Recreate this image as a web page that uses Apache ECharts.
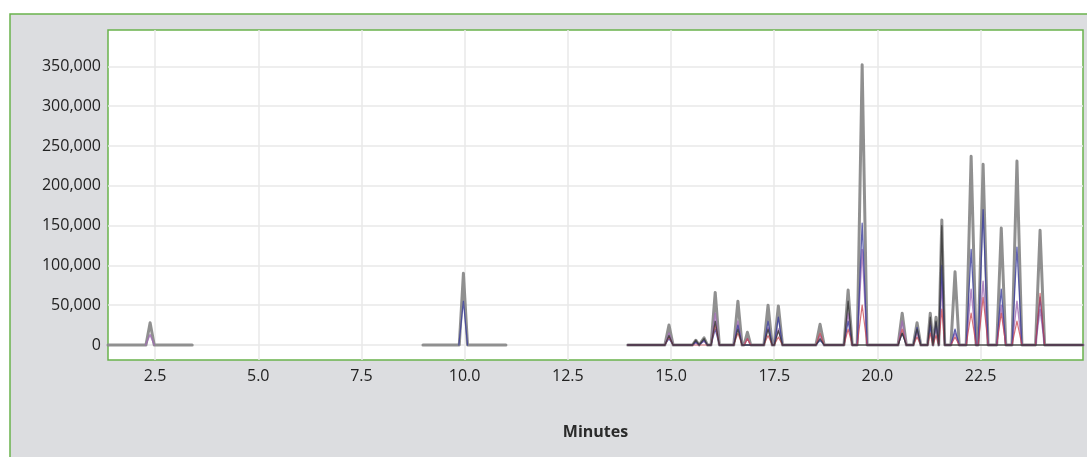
<!DOCTYPE html>
<html>
<head>
<meta charset="utf-8">
<script src="https://cdn.jsdelivr.net/npm/echarts@6/dist/echarts.min.js"></script>
<style>
  html, body { margin: 0; padding: 0; background: #ffffff; }
  #chart { width: 1087px; height: 457px; }
</style>
</head>
<body>
<div id="chart"></div>
<script>
// ---- data (minutes / detector response) ----
const xTicks = [2.5, 5.0, 7.5, 10.0, 12.5, 15.0, 17.5, 20.0, 22.5];
const yTicks = [0, 50000, 100000, 150000, 200000, 250000, 300000, 350000];

// recorded baseline segments (minutes)
const segStart = [1.36, 8.99, 13.95];
const segEnd   = [3.40, 11.00, 24.98];
// the coloured traces show only around the early peaks
const colSegStart = [2.27, 9.86, 13.95];
const colSegEnd   = [2.49, 10.08, 24.98];
// the dark trace is only recorded in the last window
const darkSegStart = [13.95];
const darkSegEnd   = [24.98];

// peaks: apex time, base width (minutes)
const peakTime  = [2.38, 9.97, 14.95, 15.60, 15.80, 16.07, 16.62, 16.85, 17.35, 17.60, 18.61, 19.29, 19.63, 20.60, 20.96, 21.28, 21.42, 21.56, 21.88, 22.27, 22.56, 23.00, 23.38, 23.94];
const peakWidth = [0.20, 0.20, 0.20, 0.16, 0.16, 0.20, 0.20, 0.16, 0.20, 0.20, 0.20, 0.20, 0.24, 0.20, 0.18, 0.13, 0.13, 0.14, 0.20, 0.24, 0.24, 0.22, 0.24, 0.22];

// peak heights per trace
const greyHeights   = [28000, 90000, 25000, 6000, 9000, 66000, 55000, 16000, 50000, 49000, 26000, 69000, 352000, 40000, 28000, 40000, 35000, 157000, 92000, 237000, 227000, 147000, 231000, 144000];
const purpleHeights = [13000, 0, 15000, 3000, 5000, 40000, 30000, 8000, 22000, 20000, 12000, 40000, 120000, 30000, 15000, 30000, 25000, 80000, 15000, 70000, 80000, 50000, 55000, 45000];
const blueHeights   = [0, 55000, 8000, 4000, 6000, 20000, 25000, 0, 30000, 35000, 6000, 30000, 153000, 15000, 22000, 25000, 28000, 100000, 20000, 120000, 170000, 70000, 123000, 60000];
const redHeights    = [0, 0, 10000, 0, 0, 25000, 15000, 8000, 12000, 10000, 15000, 20000, 50000, 20000, 10000, 15000, 12000, 45000, 10000, 40000, 60000, 40000, 30000, 65000];
const darkHeights   = [0, 0, 12000, 6000, 8000, 30000, 20000, 0, 20000, 18000, 8000, 55000, 0, 15000, 20000, 35000, 30000, 150000, 0, 0, 0, 0, 0, 0];

// ---- build line data from the tables ----
function buildTrace(heights, starts, ends) {
  const pts = [];
  for (let s = 0; s < starts.length; s++) {
    const segPts = [];
    for (let i = 0; i < peakTime.length; i++) {
      const t = peakTime[i];
      if (t < starts[s] || t > ends[s] || !heights[i]) continue;
      segPts.push([t - peakWidth[i] / 2, 0]);
      segPts.push([t, heights[i]]);
      segPts.push([t + peakWidth[i] / 2, 0]);
    }
    if (!segPts.length && s < 2 && starts !== segStart) continue;
    pts.push([starts[s], 0]);
    segPts.forEach(p => pts.push(p));
    pts.push([ends[s], 0]);
    pts.push([ends[s] + 0.01, '-']);
  }
  return pts;
}

const chart = echarts.init(document.getElementById('chart'), null, { renderer: 'canvas' });

const FONT = '"Open Sans", "Noto Sans", sans-serif';
const GREEN = '#6ab24c';

function lineSeries(name, data, color, width, opacity) {
  return {
    name: name,
    type: 'line',
    data: data,
    showSymbol: false,
    symbol: 'none',
    connectNulls: false,
    lineStyle: { color: color, width: width, opacity: opacity, join: 'round', cap: 'round' },
    emphasis: { disabled: true },
    silent: true
  };
}

chart.setOption({
  animation: false,
  backgroundColor: '#ffffff',
  graphic: [{
    type: 'rect',
    z: -100,
    shape: { x: 10, y: 14, width: 1200, height: 600 },
    style: { fill: '#dcdde0', stroke: GREEN, lineWidth: 1.5 }
  }],
  grid: {
    left: 108, top: 30, width: 975, height: 330,
    show: true, backgroundColor: '#ffffff', borderColor: GREEN, borderWidth: 1.5,
    containLabel: false
  },
  xAxis: {
    type: 'value',
    min: 1.36, max: 24.98,
    name: 'Minutes',
    nameLocation: 'middle',
    nameGap: 64,
    nameTextStyle: { fontFamily: FONT, fontSize: 16, fontWeight: 'bold', color: '#2a2a2a' },
    axisLine: { show: false },
    axisTick: { show: false, customValues: xTicks },
    axisLabel: {
      customValues: xTicks,
      fontFamily: FONT, fontSize: 16, color: '#222', margin: 8,
      formatter: v => Number(v).toFixed(1)
    },
    splitLine: { show: true, lineStyle: { color: '#e9e9e9', width: 1.5 } }
  },
  yAxis: {
    type: 'value',
    min: -18850, max: 395700,
    axisLine: { show: false },
    axisTick: { show: false, customValues: yTicks },
    axisLabel: {
      customValues: yTicks,
      fontFamily: FONT, fontSize: 16, color: '#222', margin: 7,
      formatter: v => Number(v).toLocaleString('en-US')
    },
    splitLine: { show: true, lineStyle: { color: '#e9e9e9', width: 1.5 } }
  },
  series: [
    lineSeries('grey', buildTrace(greyHeights, segStart, segEnd), '#8a8a8a', 3, 0.95),
    lineSeries('purple', buildTrace(purpleHeights, colSegStart, colSegEnd), '#a06cb4', 1.5, 0.8),
    lineSeries('blue', buildTrace(blueHeights, colSegStart, colSegEnd), '#3a3c9c', 1.3, 0.8),
    lineSeries('red', buildTrace(redHeights, colSegStart, colSegEnd), '#c8424c', 1.2, 0.75),
    lineSeries('dark', buildTrace(darkHeights, darkSegStart, darkSegEnd), '#3a3a3a', 1.3, 0.85)
  ]
});
</script>
</body>
</html>
